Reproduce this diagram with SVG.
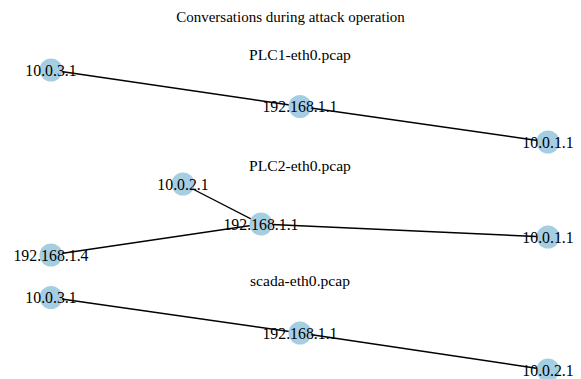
<svg xmlns="http://www.w3.org/2000/svg" width="581" height="379" viewBox="0 0 581 379">
  <style>
    text { font-family: "Liberation Serif", "Times New Roman", serif; fill: #000; }
    .title { font-size: 15px; text-anchor: middle; }
    .sub { font-size: 15.6px; text-anchor: middle; }
    .lbl { font-size: 15.8px; text-anchor: middle; dominant-baseline: central; }
    .node circle { fill: #a6cee3; }
    .edges line { stroke: #000; stroke-width: 1.4; }
  </style>
  <rect width="581" height="379" fill="#fff"/>

  <text class="title" x="290.5" y="22">Conversations during attack operation</text>
  <text class="sub" x="300" y="60">PLC1-eth0.pcap</text>
  <text class="sub" x="300" y="171">PLC2-eth0.pcap</text>
  <text class="sub" x="300" y="286">scada-eth0.pcap</text>

  <!-- connectors -->
  <g id="edges" class="edges">
    <line x1="51" y1="70" x2="300" y2="106.5"/>
    <line x1="300" y1="106.5" x2="548" y2="142"/>
    <line x1="183" y1="184" x2="261" y2="224"/>
    <line x1="51" y1="255" x2="261" y2="224"/>
    <line x1="261" y1="224" x2="548" y2="237"/>
    <line x1="51" y1="297.5" x2="300" y2="333"/>
    <line x1="300" y1="333" x2="548" y2="370"/>
  </g>

  <!-- PLC1-eth0.pcap -->
  <g id="p1-10.0.3.1" class="node"><circle cx="51" cy="70" r="11.5"/></g>
  <g id="p1-192.168.1.1" class="node"><circle cx="300" cy="106.5" r="11.5"/></g>
  <g id="p1-10.0.1.1" class="node"><circle cx="548" cy="142" r="11.5"/></g>

  <!-- PLC2-eth0.pcap -->
  <g id="p2-10.0.2.1" class="node"><circle cx="183" cy="184" r="11.5"/></g>
  <g id="p2-192.168.1.1" class="node"><circle cx="261" cy="224" r="11.5"/></g>
  <g id="p2-10.0.1.1" class="node"><circle cx="548" cy="237" r="11.5"/></g>
  <g id="p2-192.168.1.4" class="node"><circle cx="51" cy="255" r="11.5"/></g>

  <!-- scada-eth0.pcap -->
  <g id="p3-10.0.3.1" class="node"><circle cx="51" cy="297.5" r="11.5"/></g>
  <g id="p3-192.168.1.1" class="node"><circle cx="300" cy="333" r="11.5"/></g>
  <g id="p3-10.0.2.1" class="node"><circle cx="548" cy="370" r="11.5"/></g>

  <!-- node labels -->
  <g id="labels">
    <text class="lbl" x="51" y="70">10.0.3.1</text>
    <text class="lbl" x="300" y="106.5">192.168.1.1</text>
    <text class="lbl" x="548" y="142">10.0.1.1</text>
    <text class="lbl" x="183" y="184">10.0.2.1</text>
    <text class="lbl" x="261" y="224">192.168.1.1</text>
    <text class="lbl" x="548" y="237">10.0.1.1</text>
    <text class="lbl" x="51" y="255">192.168.1.4</text>
    <text class="lbl" x="51" y="297.5">10.0.3.1</text>
    <text class="lbl" x="300" y="333">192.168.1.1</text>
    <text class="lbl" x="548" y="370">10.0.2.1</text>
  </g>
</svg>
